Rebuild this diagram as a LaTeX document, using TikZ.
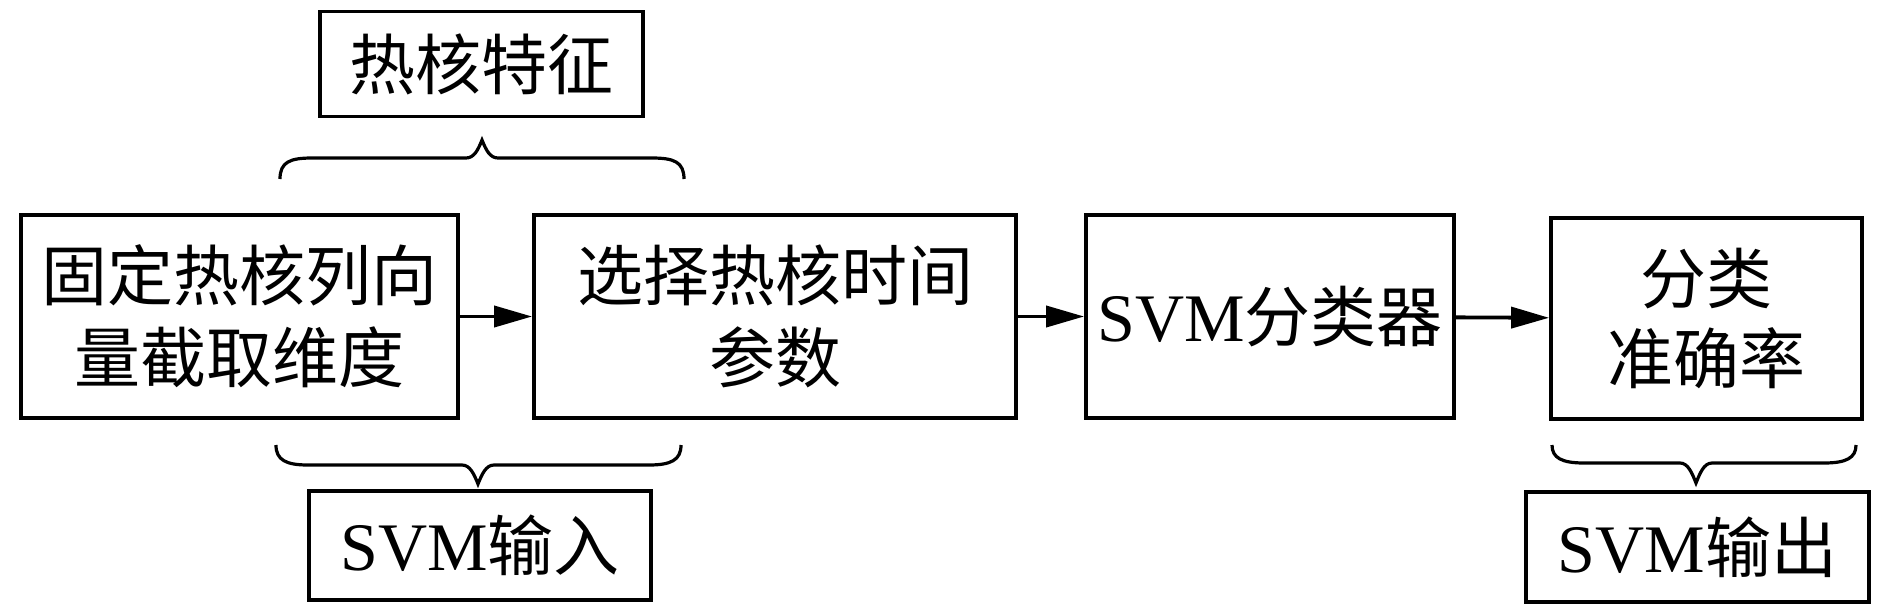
\documentclass[tikz,border=0pt]{standalone}
\usepackage{fontspec}
\setmainfont{Liberation Serif}
\newfontfamily\cjk{Noto Sans CJK SC}
\usetikzlibrary{arrows.meta}
\begin{document}
\begin{tikzpicture}[x=1pt,y=-1pt,
  box/.style={draw,line width=3.8pt,inner sep=0pt,align=center,
    font=\fontsize{66}{82}\selectfont\cjk},
  arr/.style={line width=3.8pt,-{Triangle[length=38pt,width=21pt]}},
  brc/.style={line width=3.2pt}]
\useasboundingbox (0,0) rectangle (1890,614);
\node[box,minimum width=323pt,minimum height=105pt] (feat) at (481.5,64) {热核特征};
\node[box,minimum width=437pt,minimum height=203pt] (b1) at (239.5,316.5) {固定热核列向\\量截取维度};
\node[box,minimum width=482pt,minimum height=203pt] (b2) at (775,316.5) {选择热核时间\\参数};
\node[box,minimum width=368pt,minimum height=203pt] (b3) at (1270,316.5) {{\rmfamily\fontsize{68}{82}\selectfont SVM}分类器};
\node[box,minimum width=311pt,minimum height=201pt,font=\fontsize{66}{80}\selectfont\cjk] (b4) at (1706.5,318.5) {分类\\准确率};
\node[box,minimum width=342pt,minimum height=109pt] (in) at (480,545.5) {{\rmfamily\fontsize{68}{82}\selectfont SVM}输入};
\node[box,minimum width=343pt,minimum height=110pt] (out) at (1697.5,547) {{\rmfamily\fontsize{68}{82}\selectfont SVM}输出};
\draw[arr] (b1) -- (b2);
\draw[arr] (b2) -- (b3);
\draw[arr] (b3) -- (b4);
% braces
\draw[brc] (280,179) .. controls (280,162) and (290,158) .. (312,158) -- (466,158)
  .. controls (474,158) and (478,150) .. (482,140)
  .. controls (486,150) and (490,158) .. (498,158) -- (652,158)
  .. controls (674,158) and (684,162) .. (684,179);
\draw[brc] (276,445) .. controls (276,460) and (286,465) .. (308,465) -- (462,465)
  .. controls (470,465) and (474,474) .. (478,484)
  .. controls (482,474) and (486,465) .. (494,465) -- (649,465)
  .. controls (671,465) and (681,460) .. (681,445);
\draw[brc] (1552,445) .. controls (1552,458) and (1562,463) .. (1584,463) -- (1680,463)
  .. controls (1688,463) and (1692,473) .. (1696,483)
  .. controls (1700,473) and (1704,463) .. (1712,463) -- (1824,463)
  .. controls (1846,463) and (1856,458) .. (1856,445);
\end{tikzpicture}
\end{document}
